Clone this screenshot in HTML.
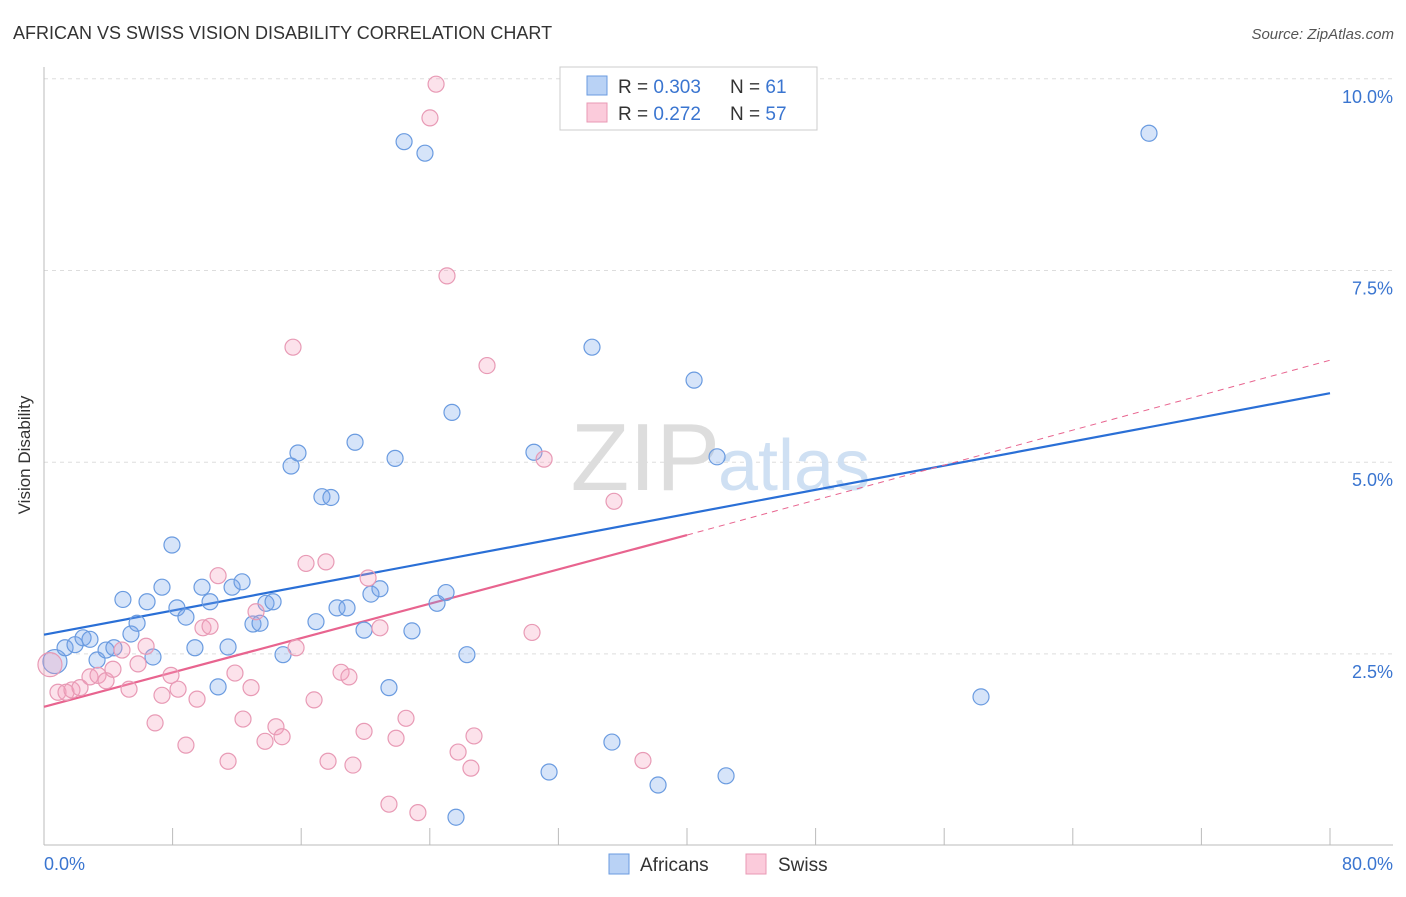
<!DOCTYPE html>
<html><head><meta charset="utf-8"><style>
body{margin:0;background:#fff;font-family:"Liberation Sans",sans-serif;}
svg text{font-family:"Liberation Sans",sans-serif;}
</style></head><body>
<svg id="chart" width="1406" height="892">
<text x="13" y="39" font-size="18" fill="#333">AFRICAN VS SWISS VISION DISABILITY CORRELATION CHART</text>
<text x="1394" y="39" font-size="15" fill="#555" font-style="italic" text-anchor="end">Source: ZipAtlas.com</text>
<g id="grid"></g>
<text x="720" y="490" font-size="96" fill="#ddd" text-anchor="end" font-family="Liberation Serif">ZIP</text>
<text x="718" y="490" font-size="72" fill="#cfe0f3">atlas</text>
<g id="axes"></g>
<g id="lines"></g>
<g id="points"></g>
<text x="30" y="455" font-size="17" fill="#333" text-anchor="middle" transform="rotate(-90 30 455)">Vision Disability</text>
<text x="44" y="870" font-size="18" fill="#3a75d0">0.0%</text>
<text x="1393" y="870" font-size="18" fill="#3a75d0" text-anchor="end">80.0%</text>
<g>
<rect x="560" y="67" width="257" height="63" fill="#fff" stroke="#ccc"/>
<rect x="587" y="76" width="20" height="19" fill="#b9d2f5" stroke="#6a9be0"/>
<rect x="587" y="103" width="20" height="19" fill="#fbcbdb" stroke="#e89ab5"/>
<text x="618" y="93" font-size="19" fill="#333">R = <tspan fill="#3a75d0">0.303</tspan></text>
<text x="730" y="93" font-size="19" fill="#333">N = <tspan fill="#3a75d0"> 61</tspan></text>
<text x="618" y="120" font-size="19" fill="#333">R = <tspan fill="#3a75d0"> 0.272</tspan></text>
<text x="730" y="120" font-size="19" fill="#333">N = <tspan fill="#3a75d0">57</tspan></text>
</g>
<g>
<rect x="609" y="854" width="20" height="20" fill="#b9d2f5" stroke="#6a9be0"/>
<text x="640" y="871" font-size="19" fill="#333">Africans</text>
<rect x="746" y="854" width="20" height="20" fill="#fbcbdb" stroke="#e89ab5"/>
<text x="778" y="871" font-size="19" fill="#333">Swiss</text>
</g>
</svg>
<script>
const yTicks=[2.5,5.0,7.5,10.0];
const yTickLabels=["2.5%","5.0%","7.5%","10.0%"];
const xTicks=[0,8,16,24,32,40,48,56,64,72,80];
const blueX=[0.68,1.31,1.93,2.43,2.86,3.30,3.86,4.35,4.91,5.41,5.79,6.41,6.78,7.34,7.96,8.27,8.83,9.39,9.83,10.33,10.83,11.45,11.70,12.32,13.00,13.44,13.81,14.25,14.87,15.37,15.80,16.92,17.29,17.85,18.23,18.85,19.35,19.91,20.34,20.90,21.46,21.84,22.40,22.89,23.70,24.45,25.01,25.38,25.63,26.31,30.48,31.42,34.09,35.33,38.20,40.44,41.87,42.43,58.29,68.74];
const blueY=[2.40,2.58,2.62,2.71,2.69,2.42,2.55,2.58,3.21,2.76,2.90,3.18,2.46,3.37,3.92,3.10,2.98,2.58,3.37,3.18,2.07,2.59,3.37,3.44,2.89,2.90,3.16,3.18,2.49,4.95,5.12,2.92,4.55,4.54,3.10,3.10,5.26,2.81,3.28,3.35,2.06,5.05,9.18,2.80,9.03,3.16,3.30,5.65,0.37,2.49,5.13,0.96,6.50,1.35,0.79,6.07,5.07,0.91,1.94,9.29];
const pinkX=[0.37,0.87,1.37,1.74,2.24,2.86,3.36,3.86,4.29,4.85,5.29,5.85,6.35,6.91,7.34,7.90,8.34,8.83,9.52,9.89,10.33,10.83,11.45,11.88,12.38,12.88,13.19,13.75,14.43,14.81,15.49,15.68,16.30,16.80,17.54,17.67,18.48,18.97,19.22,19.91,20.16,20.90,21.46,21.90,22.52,23.26,24.01,24.39,25.07,25.76,26.56,26.75,27.56,31.11,30.36,35.46,37.26];
const pinkY=[2.36,2.00,2.00,2.03,2.06,2.20,2.22,2.15,2.30,2.55,2.04,2.37,2.60,1.60,1.96,2.22,2.04,1.31,1.91,2.84,2.86,3.52,1.10,2.25,1.65,2.06,3.05,1.36,1.55,1.42,6.50,2.58,3.68,1.90,3.70,1.10,2.26,2.20,1.05,1.49,3.49,2.84,0.54,1.40,1.66,0.43,9.49,9.93,7.43,1.22,1.01,1.43,6.26,5.04,2.78,4.49,1.11];
const blueLine=[0,2.75,80,5.90];
const pinkLine=[0,1.81,40,4.05,80,6.33];
const NS="http://www.w3.org/2000/svg";
function sx(v){return 44+v/80*1286;}
function sy(v){return 845.6-v*76.68;}
function mk(tag,attrs,parent){const e=document.createElementNS(NS,tag);for(const k in attrs)e.setAttribute(k,attrs[k]);parent.appendChild(e);return e;}
const grid=document.getElementById('grid');
yTicks.forEach((t,i)=>{
 const l=mk('line',{x1:44,x2:1393,y1:sy(t),y2:sy(t),stroke:'#ddd','stroke-dasharray':'4,4'},grid);
 
 
 const tx=mk('text',{x:1393,y:sy(t)+24,'font-size':18,fill:'#3a75d0','text-anchor':'end'},grid);
 tx.textContent=yTickLabels[i];
 
 
});
const axes=document.getElementById('axes');
mk('line',{x1:44,x2:44,y1:67,y2:845,stroke:'#bbb'},axes);
mk('line',{x1:44,x2:1393,y1:845,y2:845,stroke:'#bbb'},axes);
xTicks.forEach(t=>{
 const l=mk('line',{x1:sx(t),x2:sx(t),y1:828,y2:845,stroke:'#bbb'},axes);
 
 
});
const lines=document.getElementById('lines');
const bl=mk('line',{x1:sx(blueLine[0]),y1:sy(blueLine[1]),x2:sx(blueLine[2]),y2:sy(blueLine[3]),stroke:'#2a6fd6','stroke-width':2.2},lines);


const pl=mk('line',{x1:sx(pinkLine[0]),y1:sy(pinkLine[1]),x2:sx(pinkLine[2]),y2:sy(pinkLine[3]),stroke:'#e8648f','stroke-width':2.2},lines);


const pd=mk('line',{x1:sx(pinkLine[2]),y1:sy(pinkLine[3]),x2:sx(pinkLine[4]),y2:sy(pinkLine[5]),stroke:'#e8648f','stroke-width':1,'stroke-dasharray':'6,5'},lines);


const pts=document.getElementById('points');
blueX.forEach((x,i)=>{
 const c=mk('circle',{cx:sx(x),cy:sy(blueY[i]),r:i===0?12:8,fill:'rgba(120,165,235,0.3)',stroke:'#6a9be0','stroke-width':1.2},pts);
 
 
});
pinkX.forEach((x,i)=>{
 const c=mk('circle',{cx:sx(x),cy:sy(pinkY[i]),r:i===0?12:8,fill:'rgba(245,160,190,0.3)',stroke:'#e89ab5','stroke-width':1.2},pts);
 
 
});
</script>
</body></html>
